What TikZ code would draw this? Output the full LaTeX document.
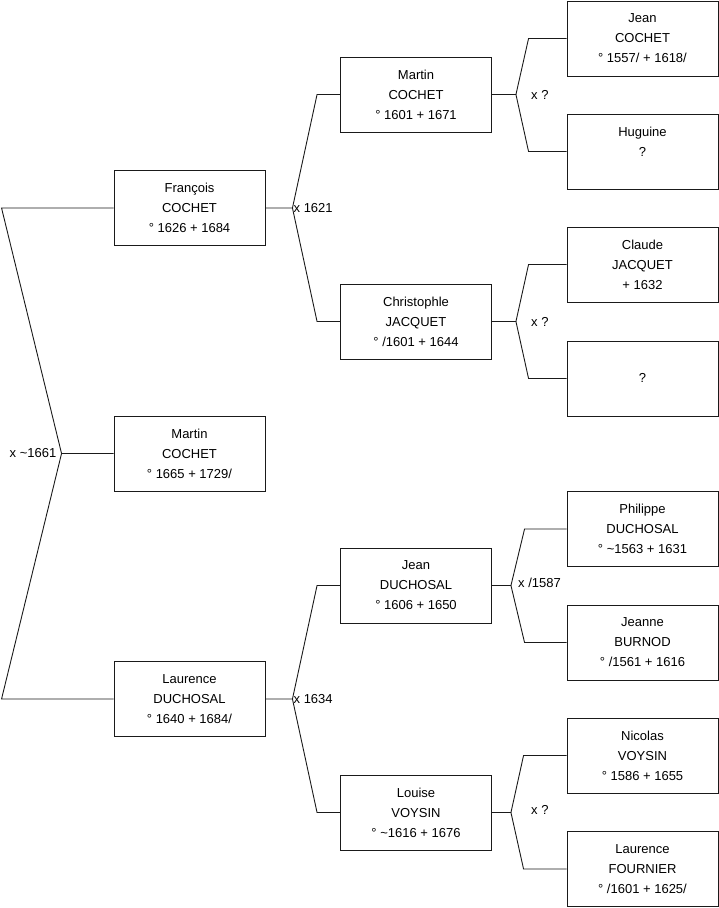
\documentclass[tikz,border=0pt]{standalone}
\usepackage{fontspec}
\setmainfont{Liberation Sans}
\usetikzlibrary{positioning,calc}
\definecolor{ink}{HTML}{1A1A1A}

\begin{document}
\begin{tikzpicture}[x=1pt,y=-1pt,
  person/.style={draw=ink, line width=0.9pt, minimum width=151pt, minimum height=75pt,
    align=center, inner sep=0pt, font=\fontsize{13}{20}\selectfont},
  link/.style={draw=ink, line width=0.9pt},
  union/.style={inner sep=0pt, font=\fontsize{13}{16}\selectfont}]
  \useasboundingbox (0,0) rectangle (719,908);
  \node[person] (francois) at (189.5,208) {François\\COCHET\\° 1626 + 1684};
  \node[person] (martinM) at (189.5,453.5) {Martin\\COCHET\\° 1665 + 1729/};
  \node[person] (laurenceD) at (189.5,699) {Laurence\\DUCHOSAL\\° 1640 + 1684/};
  \node[person] (martinC) at (416,94.5) {Martin\\COCHET\\° 1601 + 1671};
  \node[person] (christophle) at (416,321.5) {Christophle\\JACQUET\\° /1601 + 1644};
  \node[person] (jeanD) at (416,585.5) {Jean\\DUCHOSAL\\° 1606 + 1650};
  \node[person] (louise) at (416,812.5) {Louise\\VOYSIN\\° \textasciitilde1616 + 1676};
  \node[person] (jeanC) at (642.5,38.5) {Jean\\COCHET\\° 1557/ + 1618/};
  \node[person] (huguine) at (642.5,151.5) {Huguine\\?\\~};
  \node[person] (claude) at (642.5,264.5) {Claude\\JACQUET\\+ 1632};
  \node[person] (unknown) at (642.5,378.5) {\phantom{M}\\?\\~};
  \node[person] (philippe) at (642.5,529) {Philippe\\DUCHOSAL\\° \textasciitilde1563 + 1631};
  \node[person] (jeanne) at (642.5,642.5) {Jeanne\\BURNOD\\° /1561 + 1616};
  \node[person] (nicolas) at (642.5,755.5) {Nicolas\\VOYSIN\\° 1586 + 1655};
  \node[person] (laurenceF) at (642.5,869) {Laurence\\FOURNIER\\° /1601 + 1625/};

  \coordinate (uRoot) at ([xshift=-52pt]martinM.west);
  \draw[link] (francois.west) -- ++(-112,0) -- (uRoot) -- (martinM.west);
  \draw[link] (uRoot) -- ([xshift=-112pt]laurenceD.west) -- (laurenceD.west);
  \node[union, left=5pt of uRoot] (mRoot) {x \textasciitilde1661};

  \draw[link] (francois.east) -- ++(27,0) coordinate (uFC) -- ([xshift=-23pt]martinC.west) -- (martinC.west);
  \draw[link] (uFC) -- ([xshift=-23pt]christophle.west) -- (christophle.west);
  \node[union, right=1pt of uFC] (mFC) {x 1621};
  \draw[link] (laurenceD.east) -- ++(27,0) coordinate (uLD) -- ([xshift=-23pt]jeanD.west) -- (jeanD.west);
  \draw[link] (uLD) -- ([xshift=-23pt]louise.west) -- (louise.west);
  \node[union, right=1pt of uLD] (mLD) {x 1634};

  \draw[link] (martinC.east) -- ++(24,0) coordinate (uMC) -- ([xshift=-38pt]jeanC.west) -- (jeanC.west);
  \draw[link] (uMC) -- ([xshift=-38pt]huguine.west) -- (huguine.west);
  \node[union, right=15pt of uMC] (mMC) {x ?};
  \draw[link] (christophle.east) -- ++(24,0) coordinate (uCJ) -- ([xshift=-38pt]claude.west) -- (claude.west);
  \draw[link] (uCJ) -- ([xshift=-38pt]unknown.west) -- (unknown.west);
  \node[union, right=15pt of uCJ] (mCJ) {x ?};
  \draw[link] (jeanD.east) -- ++(19,0) coordinate (uJD) -- ([xshift=-42pt]philippe.west) -- (philippe.west);
  \draw[link] (uJD) -- ([xshift=-42pt]jeanne.west) -- (jeanne.west);
  \node[union, right=7pt of uJD, yshift=3pt] (mJD) {x /1587};
  \draw[link] (louise.east) -- ++(19,0) coordinate (uLV) -- ([xshift=-43pt]nicolas.west) -- (nicolas.west);
  \draw[link] (uLV) -- ([xshift=-43pt]laurenceF.west) -- (laurenceF.west);
  \node[union, right=20pt of uLV, yshift=3pt] (mLV) {x ?};
\end{tikzpicture}
\end{document}
